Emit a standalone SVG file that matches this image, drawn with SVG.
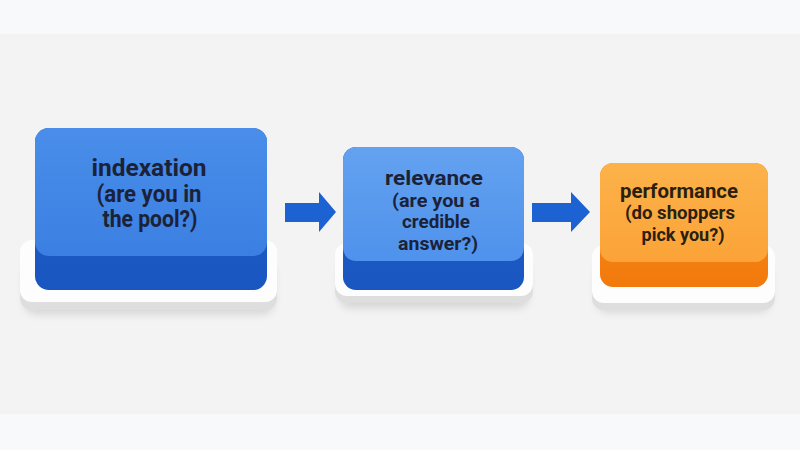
<svg xmlns="http://www.w3.org/2000/svg" width="800" height="450" viewBox="0 0 800 450">
<defs>
<linearGradient id="gBlue1" x1="0" y1="0" x2="0" y2="1"><stop offset="0" stop-color="#4a8eea"/><stop offset="1" stop-color="#3b7fe2"/></linearGradient>
<linearGradient id="gBlue2" x1="0" y1="0" x2="0" y2="1"><stop offset="0" stop-color="#64a2f0"/><stop offset="1" stop-color="#4f92ec"/></linearGradient>
<linearGradient id="gOr" x1="0" y1="0" x2="0" y2="1"><stop offset="0" stop-color="#fcb24a"/><stop offset="1" stop-color="#fba337"/></linearGradient>
<linearGradient id="gSideB" x1="0" y1="0" x2="0" y2="1"><stop offset="0" stop-color="#1f60cc"/><stop offset="1" stop-color="#1a56c0"/></linearGradient>
<linearGradient id="gSideO" x1="0" y1="0" x2="0" y2="1"><stop offset="0" stop-color="#fb8a1c"/><stop offset="1" stop-color="#f27a0c"/></linearGradient>
<filter id="sh" x="-20%" y="-30%" width="140%" height="170%"><feGaussianBlur stdDeviation="4"/></filter>
</defs>
<style>
.bg{fill:#f3f3f4}
.baseEdge{fill:#dedede}
.baseTop{fill:#fdfdfd}
.shadow{fill:#000;opacity:0.12;filter:url(#sh)}
.t{font-family:Roboto,"Open Sans",sans-serif;font-weight:700;fill:#1b2238;text-anchor:middle}
.to{fill:#2a2010}
.arrow{fill:#1d62d2}
</style>
<rect width="800" height="450" fill="#f8f9fb"/>
<rect class="bg" x="0" y="34" width="800" height="380"/>

<g id="node-indexation">
<rect class="shadow" x="24" y="262" width="250" height="52" rx="12"/>
<rect class="baseEdge" x="20" y="248" width="257" height="62" rx="12"/>
<rect class="baseTop" x="20" y="240" width="257" height="62" rx="12"/>
<rect x="35" y="128" width="232" height="162" rx="14" fill="url(#gSideB)"/>
<rect x="35" y="128" width="232" height="128" rx="14" fill="url(#gBlue1)"/>
<text class="t" x="149" y="176" font-size="24" textLength="115" lengthAdjust="spacingAndGlyphs">indexation</text>
<text class="t" x="149" y="202" font-size="23" textLength="105" lengthAdjust="spacingAndGlyphs">(are you in</text>
<text class="t" x="150" y="227" font-size="23" textLength="95" lengthAdjust="spacingAndGlyphs">the pool?)</text>
</g>

<g id="node-relevance">
<rect class="shadow" x="339" y="262" width="190" height="46" rx="12"/>
<rect class="baseEdge" x="335" y="250" width="198" height="53" rx="12"/>
<rect class="baseTop" x="335" y="243" width="198" height="53" rx="12"/>
<rect x="343" y="147" width="181" height="143" rx="13" fill="url(#gSideB)"/>
<rect x="343" y="147" width="181" height="114" rx="13" fill="url(#gBlue2)"/>
<text class="t" x="434" y="185" font-size="21" textLength="98" lengthAdjust="spacingAndGlyphs">relevance</text>
<text class="t" x="436" y="207" font-size="19" textLength="88" lengthAdjust="spacingAndGlyphs">(are you a</text>
<text class="t" x="436" y="228" font-size="19" textLength="68" lengthAdjust="spacingAndGlyphs">credible</text>
<text class="t" x="438" y="250" font-size="19" textLength="80" lengthAdjust="spacingAndGlyphs">answer?)</text>
</g>

<g id="node-performance">
<rect class="shadow" x="596" y="264" width="175" height="48" rx="12"/>
<rect class="baseEdge" x="592" y="252" width="183" height="58" rx="12"/>
<rect class="baseTop" x="592" y="245" width="183" height="58" rx="12"/>
<rect x="600" y="163" width="168" height="124" rx="13" fill="url(#gSideO)"/>
<rect x="600" y="163" width="168" height="99" rx="13" fill="url(#gOr)"/>
<text class="t to" x="679" y="198" font-size="21" textLength="118" lengthAdjust="spacingAndGlyphs">performance</text>
<text class="t to" x="680" y="219" font-size="18.5" textLength="110" lengthAdjust="spacingAndGlyphs">(do shoppers</text>
<text class="t to" x="683" y="241" font-size="18.5" textLength="83" lengthAdjust="spacingAndGlyphs">pick you?)</text>
</g>

<g id="connectors">
<path class="arrow" d="M285 203 H319 V192 L336 212 L319 232 V222 H285 Z"/>
<path class="arrow" d="M532 203 H571 V192 L590 212 L571 232 V222 H532 Z"/>
</g>
</svg>
